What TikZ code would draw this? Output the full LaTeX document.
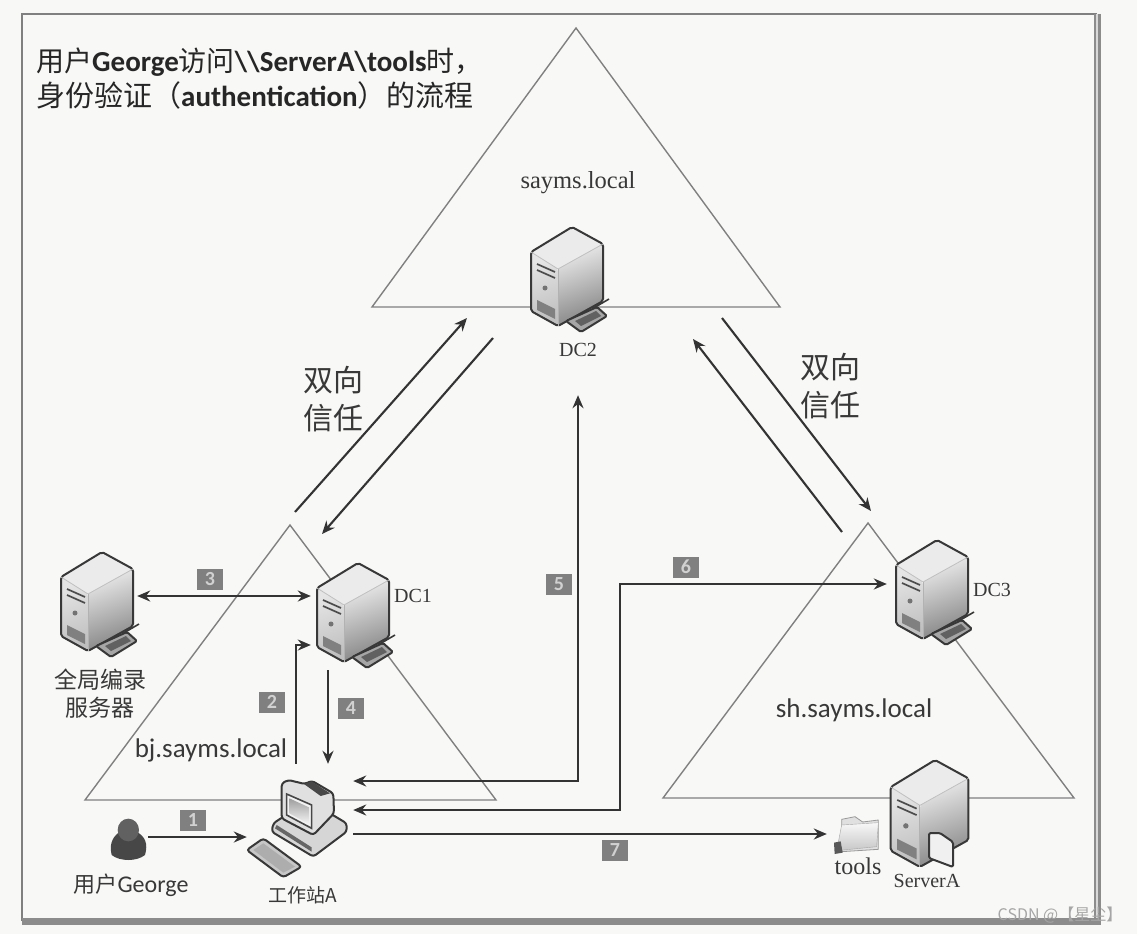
\documentclass[tikz,border=0pt]{standalone}
\usepackage{fontspec}
\setmainfont{Liberation Serif}
\newfontfamily\cjk{Noto Sans CJK SC}
\newfontfamily\lat{Carlito}
\usetikzlibrary{arrows.meta,calc}
\definecolor{ink}{HTML}{333333}
\definecolor{paper}{HTML}{F8F8F6}
\tikzset{
  tri/.style={draw=black!50,line width=1.4pt,line join=miter},
  arr/.style={draw=ink,line width=2.1pt,-{Stealth[length=13pt,width=11pt]}},
  darr/.style={draw=ink,line width=2.1pt,{Stealth[length=13pt,width=11pt]}-{Stealth[length=13pt,width=11pt]}},
  badge/.style={fill=black!50,text=black!18,font=\lat\bfseries\fontsize{20}{20}\selectfont,minimum width=26pt,minimum height=21pt,inner sep=0pt},
  lbl/.style={text=black!78,inner sep=0pt,align=center},
  slot/.style={inner sep=0pt,draw=none},
  edge/.style={draw=black!78,line width=2pt,line join=round},
  servershape/.pic={
    \shade[left color=black!10,right color=black!25,shading angle=20,rounded corners=2pt] (-41,25)--(-14,42)--(-14,99)--(-41,84)--cycle;
    \shade[top color=black!8,bottom color=black!48,shading angle=20,rounded corners=2pt] (-14,42)--(31,17)--(31,74)--(-14,99)--cycle;
    \fill[black!8] (0,0)--(31,17)--(-14,42)--(-41,25)--cycle;
    \draw[edge,rounded corners=2pt] (0,0)--(31,17)--(31,74)--(-14,99)--(-41,84)--(-41,25)--cycle;
    \draw[black!25,line width=.8pt] (-41,25)--(-14,42)--(31,17);
    \draw[black!30,line width=.8pt] (-14,42)--(-14,99);
    \draw[black!70,line width=1.7pt] (-35,37)--(-17,45) (-35,43)--(-17,51);
    \fill[black!55] (-27,61) circle (2.5pt);
    \fill[black!50] (-35,73)--(-17,82)--(-17,92)--(-35,83)--cycle;
  },
  kbd/.pic={
    \draw[black!78,line width=1.6pt] (20,82)--(37,72);
    \draw[edge,fill=black!35,rounded corners=1.5pt] (-6,94)--(25,80)--(35,89)--(9,105)--cycle;
    \fill[black!62] (3,94)--(24,84)--(29,89)--(9,99)--cycle;
  },
}
\begin{document}
\begin{tikzpicture}[x=1pt,y=-1pt]
\useasboundingbox (0,0) rectangle (1137,934);
\fill[paper] (0,0) rectangle (1137,934);
% frame
\draw[black!50,line width=1.5pt] (22,921)--(22,14)--(1097,14);
\draw[black!45,line width=7pt] (1097,14)--(1097,921)--(22,921);
\draw[black!15,line width=1.5pt] (1097,14)--(1097,918);
% triangles
\coordinate (t0) at (576,28); \coordinate (t1) at (372,307); \coordinate (t2) at (780,307);
\coordinate (l0) at (290,525); \coordinate (l1) at (85,800); \coordinate (l2) at (496,800);
\coordinate (r0) at (868,523); \coordinate (r1) at (663,798); \coordinate (r2) at (1074,798);
\draw[tri] (t0)--(t1)--(t2)--cycle;
\draw[tri] (l0)--(l1)--(l2)--cycle;
\draw[tri] (r0)--(r1)--(r2)--cycle;
% slots for the icons
\node[slot,minimum width=82pt,minimum height=120pt] (gc) at (96,610) {};
\node[slot,minimum width=86pt,minimum height=114pt] (dc1) at (354,613) {};
\node[slot,minimum width=110pt,minimum height=170pt] (dc2) at (578,310) {};
\node[slot,minimum width=86pt,minimum height=114pt] (dc3) at (930,595) {};
\node[slot,minimum width=106pt,minimum height=116pt] (pc) at (300,822) {};
\node[slot,minimum width=38pt,minimum height=60pt] (user) at (129,848) {};
\node[slot,minimum width=53pt,minimum height=70pt] (folder) at (853.5,845) {};
% helper levels and free ends
\coordinate (y3) at (0,596); \coordinate (y2) at (0,645); \coordinate (y1) at (0,837);
\coordinate (y5) at (0,781); \coordinate (y6) at (0,810); \coordinate (y6t) at (0,584); \coordinate (y7) at (0,834);
\coordinate (x5) at (578,0); \coordinate (x6) at (620,0);
\coordinate (x2) at (296,0); \coordinate (x4) at (328,0);
\coordinate (a1) at (295,512); \coordinate (a2) at (467,318);
\coordinate (b1) at (493,338); \coordinate (b2) at (322,534);
\coordinate (c1) at (722,318); \coordinate (c2) at (871,511);
\coordinate (d1) at (842,532); \coordinate (d2) at (693,339);
\coordinate (d4) at (328,670);
% connectors
\draw[arr] (a1)--(a2);
\draw[arr] (b1)--(b2);
\draw[arr] (c1)--(c2);
\draw[arr] (d1)--(d2);
\draw[darr] (gc.east |- y3)--(dc1.west |- y3);
\draw[arr] (x2 |- pc.north)--(x2 |- y2)--(dc1.west |- y2);
\draw[arr] (d4)--(x4 |- pc.north);
\draw[arr] (user.east |- y1)--(pc.west |- y1);
\draw[darr] (pc.east |- y5)--(x5 |- y5)--(x5 |- dc2.south);
\draw[darr] (pc.east |- y6)--(x6 |- y6)--(x6 |- y6t)--(dc3.west |- y6t);
\draw[arr] (pc.east |- y7)--(folder.west |- y7);
% servers
\pic at (102,552) {servershape}; \pic at (102,552) {kbd};
\pic at (358,563) {servershape}; \pic at (358,563) {kbd};
\pic at (572,227) {servershape}; \pic at (572,227) {kbd};
\pic at (937,540) {servershape}; \pic at (937,540) {kbd};
\pic[scale=1.08] at (935,760) {servershape};
% document on ServerA
\draw[edge,fill=black!6,rounded corners=1.5pt] (929,833)--(940,833)--(953,842)--(953,867)--(929,858)--cycle;
% workstation (drawn in the coordinates of a 3x crop)
\begin{scope}[shift={(230,760)},scale=1/3]
  \draw[edge,fill=black!16,rounded corners=3pt] (130,190)--(160,170)--(300,160)--(350,190)--(350,215)--(250,290)--(125,215)--cycle;
  \fill[black!60] (135,205)--(245,275)--(245,262)--(140,195)--cycle;
  \draw[edge,fill=black!12,rounded corners=3pt] (155,70)--(175,60)--(225,72)--(245,62)--(310,100)--(312,160)--(250,225)--(155,175)--cycle;
  \fill[black!72] (222,72)--(245,64)--(300,100)--(272,108)--cycle;
  \draw[black!72,line width=1.6pt,fill=black!5] (170,102)--(245,135)--(245,205)--(170,165)--cycle;
  \shade[top color=black!38,bottom color=black!4] (178,115)--(237,142)--(237,192)--(178,160)--cycle;
  \draw[edge,fill=black!22,rounded corners=3pt] (50,270)--(100,235)--(215,320)--(160,352)--cycle;
  \fill[black!32] (70,270)--(100,250)--(195,320)--(160,338)--cycle;
\end{scope}
% person
\begin{scope}[shift={(30,530)},scale=1/3]
  \fill[black!72] (245,975) .. controls (235,935) and (255,915) .. (270,905) -- (320,905) .. controls (345,920) and (355,940) .. (345,975) .. controls (320,995) and (270,995) .. (245,975) -- cycle;
  \fill[black!62] (295,900) ellipse (32 and 34);
\end{scope}
% folder
\begin{scope}[shift={(620,530)},scale=1/3]
  \draw[black!40,line width=.8pt,fill=black!12] (665,868)--(705,860)--(728,876)--(775,870)--(775,958)--(665,965)--cycle;
  \shade[top color=black!3,bottom color=black!22,draw=black!35] (665,885)--(775,878)--(770,950)--(650,962)--cycle;
  \fill[black!65] (642,938)--(662,934)--(668,968)--(644,972)--cycle;
\end{scope}
% badges
\node[badge] (n1) at (193,820) {1};
\node[badge] (n2) at (272,702) {2};
\node[badge] (n3) at (210,579) {3};
\node[badge] (n4) at (351,708) {4};
\node[badge] (n5) at (559,584) {5};
\node[badge] (n6) at (686,567) {6};
\node[badge] (n7) at (615,850) {7};
% labels
\node[lbl,anchor=base west,text=black!85] (title1) at (36,71) {\cjk\fontsize{28}{30}\selectfont 用户{\lat\bfseries\fontsize{29}{30}\selectfont George}访问{\lat\bfseries\fontsize{29}{30}\selectfont\textbackslash\textbackslash ServerA\textbackslash tools}时，};
\node[lbl,anchor=base west,text=black!85] (title2) at (36,106) {\cjk\fontsize{29}{30}\selectfont 身份验证（{\lat\bfseries\fontsize{29}{30}\selectfont authentication}）的流程};
\node[lbl,font=\fontsize{24.5}{24.5}\selectfont] (ltop) at (578,183) {sayms.local};
\node[lbl,font=\fontsize{20}{20}\selectfont] (ldc2) at (578,350) {DC2};
\node[lbl,font=\fontsize{20}{20}\selectfont] (ldc1) at (413,596) {DC1};
\node[lbl,font=\fontsize{20}{20}\selectfont] (ldc3) at (992,590) {DC3};
\node[lbl,font=\fontsize{24}{24}\selectfont] (ltools) at (858,866) {tools};
\node[lbl,font=\fontsize{20}{20}\selectfont] (lsrv) at (927,881) {ServerA};
\node[lbl,font=\cjk\fontsize{19}{19}\selectfont] (lpc) at (303,895) {工作站A};
\node[lbl,font=\cjk\fontsize{23}{28}\selectfont] (lgc) at (100,694) {全局编录\\服务器};
\node[lbl] (luser) at (131,885) {\cjk\fontsize{22}{22}\selectfont 用户{\lat\fontsize{24}{24}\selectfont George}};
\node[lbl,font=\lat\fontsize{27}{27}\selectfont] (lbj) at (211,750) {bj.sayms.local};
\node[lbl,font=\lat\fontsize{27}{27}\selectfont] (lsh) at (854,710) {sh.sayms.local};
\node[lbl,font=\cjk\fontsize{30}{38}\selectfont] (tl) at (333,399) {双向\\信任};
\node[lbl,font=\cjk\fontsize{30}{38}\selectfont] (tr) at (830,386) {双向\\信任};
\node[inner sep=0pt,text=black!35,font=\cjk\fontsize{16}{16}\selectfont] (wm) at (1060,915) {CSDN @【星尘】};
\end{tikzpicture}
\end{document}
